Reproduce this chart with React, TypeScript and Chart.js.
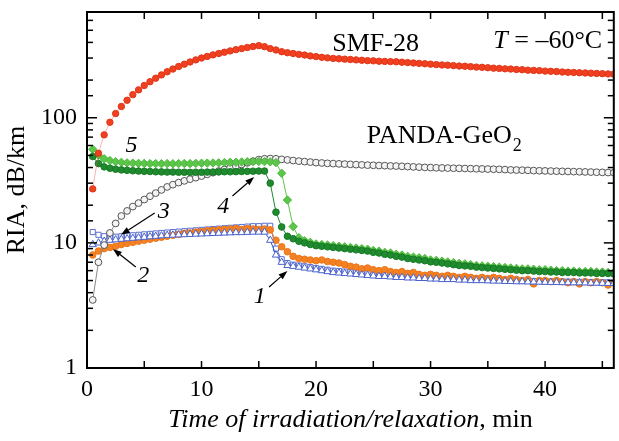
import React, { useEffect, useRef } from 'react';
import { Chart, registerables } from 'chart.js';

Chart.register(...registerables);

// Time, min
const time = [
  0.5, 1, 1.5, 2, 2.5, 3, 3.5, 4, 4.5, 5,
  5.5, 6, 6.5, 7, 7.5, 8, 8.5, 9, 9.5, 10,
  10.5, 11, 11.5, 12, 12.5, 13, 13.5, 14, 14.5, 15,
  15.5, 16, 16.5, 17, 17.5, 18, 18.5, 19, 19.5, 20,
  20.5, 21, 21.5, 22, 22.5, 23, 23.5, 24, 24.5, 25,
  25.5, 26, 26.5, 27, 27.5, 28, 28.5, 29, 29.5, 30,
  30.5, 31, 31.5, 32, 32.5, 33, 33.5, 34, 34.5, 35,
  35.5, 36, 36.5, 37, 37.5, 38, 38.5, 39, 39.5, 40,
  40.5, 41, 41.5, 42, 42.5, 43, 43.5, 44, 44.5, 45,
  45.5, 46,
];

// SMF-28 (red)
const smf28 = [
  27, 52, 73, 92, 108, 123, 138, 153, 167, 181,
  194, 207, 220, 233, 245, 257, 268, 279, 290, 300,
  309, 318, 326, 334, 342, 350, 357, 364, 371, 377,
  370, 357, 348, 337, 331, 326, 321, 317, 312, 308,
  304, 301, 298, 296, 294, 292, 290, 288, 286, 285,
  283, 282, 281, 280, 278, 276, 274, 272, 270, 268,
  266, 264, 263, 261, 259, 258, 256, 254, 253, 251,
  249, 248, 246, 245, 243, 242, 240, 239, 238, 236,
  235, 234, 232, 231, 230, 229, 228, 227, 226, 225,
  224, 223,
];

// PANDA-GeO2 (grey open circles)
const pandaGeO2 = [
  3.5, 7.0, 9.6, 12.0, 14.3, 16.4, 18.0, 19.5, 20.8, 22.2,
  23.6, 25.0, 26.5, 28.0, 29.2, 30.3, 31.3, 32.3, 33.2, 34.2,
  35.3, 36.4, 37.5, 38.6, 39.8, 41.0, 42.3, 43.6, 45.0, 46.3,
  47.0, 47.2, 47.0, 46.5, 46.0, 45.5, 45.0, 44.6, 44.2, 43.8,
  43.5, 43.2, 43.0, 42.8, 42.6, 42.4, 42.2, 42.0, 41.8, 41.7,
  41.5, 41.4, 41.2, 41.1, 40.9, 40.7, 40.5, 40.3, 40.1, 40.0,
  39.8, 39.7, 39.6, 39.5, 39.4, 39.3, 39.2, 39.1, 39.0, 38.9,
  38.8, 38.7, 38.5, 38.3, 38.2, 38.1, 38.0, 37.8, 37.7, 37.6,
  37.5, 37.4, 37.3, 37.2, 37.1, 37.0, 36.9, 36.8, 36.7, 36.6,
  36.5, 36.4,
];

// Curve 1 (blue open triangles)
const curve1 = [
  9.7, 10.0, 10.3, 10.5, 10.6, 10.7, 10.8, 10.9, 11.0, 11.1,
  11.2, 11.3, 11.4, 11.5, 11.55, 11.6, 11.65, 11.7, 11.75, 11.8,
  11.85, 11.9, 11.95, 12.0, 12.05, 12.1, 12.1, 12.15, 12.2, 12.2,
  12.2, 10.5, 8.0, 7.0, 6.6, 6.5, 6.4, 6.3, 6.2, 6.1,
  6.0, 5.9, 5.8, 5.75, 5.7, 5.65, 5.6, 5.55, 5.5, 5.45,
  5.4, 5.4, 5.35, 5.3, 5.3, 5.25, 5.25, 5.2, 5.2, 5.15,
  5.15, 5.1, 5.1, 5.1, 5.05, 5.05, 5.0, 5.0, 5.0, 4.98,
  4.96, 4.95, 4.93, 4.92, 4.9, 4.9, 4.88, 4.87, 4.86, 4.85,
  4.84, 4.83, 4.82, 4.81, 4.8, 4.8, 4.79, 4.78, 4.77, 4.76,
  4.75, 4.75,
];

// Curve 2 (orange filled circles)
const curve2 = [
  8.0, 8.6, 9.0, 9.2, 9.4, 9.7, 9.9, 10.1, 10.3, 10.5,
  10.7, 10.9, 11.1, 11.3, 11.5, 11.7, 11.9, 12.0, 12.2, 12.3,
  12.5, 12.6, 12.7, 12.8, 12.9, 13.0, 12.8, 13.0, 12.9, 12.8,
  12.9, 12.7, 10.5, 9.3, 8.5, 7.8, 7.5, 7.4, 7.3, 7.2,
  7.3, 7.1, 7.0, 6.9, 6.7, 6.5, 6.4, 6.2, 6.3, 6.1,
  6.0, 6.1, 5.9, 5.8, 5.9, 5.7, 5.8, 5.6, 5.5, 5.6,
  5.5, 5.4, 5.5, 5.4, 5.3, 5.4, 5.3, 5.2, 5.3, 5.2,
  5.3, 5.2, 5.1, 5.2, 5.1, 5.0, 5.1, 4.7, 5.0, 5.0,
  4.9, 5.0, 4.9, 4.8, 4.9, 4.7, 4.9, 4.8, 4.9, 4.8,
  4.6, 4.8,
];

// Curve 3 (blue open squares)
const curve3 = [
  12.2, 11.6, 11.3, 11.2, 11.2, 11.3, 11.4, 11.5, 11.6, 11.7,
  11.8, 11.9, 12.0, 12.1, 12.2, 12.3, 12.4, 12.5, 12.6, 12.7,
  12.8, 12.9, 13.0, 13.1, 13.2, 13.3, 13.4, 13.5, 13.6, 13.6,
  13.7, 13.7, 9.0, 7.4, 6.9, 6.7, 6.6, 6.5, 6.4, 6.3,
  6.2, 6.1, 6.0, 5.95, 5.9, 5.85, 5.8, 5.75, 5.7, 5.65,
  5.6, 5.55, 5.5, 5.45, 5.45, 5.4, 5.4, 5.35, 5.35, 5.3,
  5.3, 5.25, 5.25, 5.2, 5.2, 5.15, 5.15, 5.1, 5.1, 5.1,
  5.05, 5.05, 5.0, 5.0, 5.0, 4.98, 4.96, 4.95, 4.94, 4.93,
  4.92, 4.91, 4.9, 4.9, 4.89, 4.88, 4.87, 4.86, 4.85, 4.85,
  4.84, 4.83,
];

// Curve 4 (dark green filled circles)
const curve4 = [
  49, 43, 40.5, 39.5, 38.8, 38.3, 38.0, 37.7, 37.5, 37.3,
  37.2, 37.0, 36.9, 36.8, 36.8, 36.7, 36.7, 36.6, 36.7, 36.7,
  36.8, 36.8, 36.9, 37.0, 37.0, 37.1, 37.2, 37.3, 37.4, 37.5,
  37.5, 30, 17.6, 13.4, 11.3, 10.8, 10.3, 10.0, 9.7, 9.5,
  9.4, 9.3, 9.2, 9.1, 9.0, 8.9, 8.8, 8.7, 8.6, 8.4,
  8.3, 8.1, 8.0, 7.8, 7.7, 7.5, 7.4, 7.3, 7.2, 7.05,
  7.0, 6.9, 6.8, 6.7, 6.6, 6.55, 6.5, 6.4, 6.35, 6.3,
  6.25, 6.2, 6.15, 6.1, 6.05, 6.0, 6.0, 5.95, 5.9, 5.9,
  5.85, 5.85, 5.8, 5.8, 5.8, 5.75, 5.75, 5.75, 5.7, 5.7,
  5.7, 5.65,
];

// Curve 5 (light green diamonds)
const curve5 = [
  56, 50, 47, 45.5, 44.5, 44.0, 43.6, 43.4, 43.2, 43.1,
  43.0, 43.0, 42.9, 43.0, 42.9, 43.0, 43.1, 43.0, 43.2, 43.3,
  43.4, 43.5, 43.6, 43.8, 44.0, 44.1, 44.3, 44.5, 44.6, 44.7,
  44.6, 44.4, 43.8, 36, 22, 13.5, 11.0, 10.4, 10.1, 9.8,
  9.7, 9.6, 9.5, 9.4, 9.3, 9.2, 9.1, 9.0, 8.9, 8.7,
  8.6, 8.4, 8.3, 8.1, 8.0, 7.8, 7.7, 7.6, 7.5, 7.3,
  7.25, 7.15, 7.05, 6.95, 6.85, 6.8, 6.7, 6.6, 6.55, 6.5,
  6.45, 6.4, 6.35, 6.3, 6.25, 6.2, 6.2, 6.15, 6.1, 6.1,
  6.05, 6.0, 6.0, 5.95, 5.95, 5.9, 5.9, 5.9, 5.85, 5.85,
  5.8, 5.8,
];

const xTickLabels = [0, 10, 20, 30, 40];
const yTickLabels = [1, 10, 100];

const SERIF = '"Liberation Serif", "Times New Roman", "DejaVu Serif", serif';

// annotation anchors in data coordinates (time, RIA)
const numberLabels = [
  { text: '5', t: 3.89, v: 53.6 },
  { text: '4', t: 11.9, v: 17.3 },
  { text: '3', t: 6.7, v: 15.8 },
  { text: '2', t: 4.91, v: 4.87 },
  { text: '1', t: 15.09, v: 3.31 },
];
const arrows = [
  { from: [5.91, 17.3], to: [2.96, 11.6] },
  { from: [4.26, 6.42], to: [2.26, 8.94] },
  { from: [12.7, 23.7], to: [14.6, 33.6] },
  { from: [15.9, 4.44], to: [17.5, 5.96] },
];

function pts(values: number[]) {
  return time.map((t, i) => ({ x: t, y: values[i] }));
}

const framePlugin = {
  id: 'frameTicks',
  afterDraw(chart: any) {
    const { ctx, chartArea, scales } = chart;
    const { left, right, top, bottom } = chartArea;
    const xs = scales.x;
    const ys = scales.y;
    ctx.save();
    ctx.strokeStyle = '#000';
    ctx.lineWidth = 1.5;
    const line = (x1: number, y1: number, x2: number, y2: number) => {
      ctx.beginPath();
      ctx.moveTo(x1, y1);
      ctx.lineTo(x2, y2);
      ctx.stroke();
    };
    ys.ticks.forEach((tk: any) => {
      const py = ys.getPixelForValue(tk.value);
      if (py <= top + 1 || py >= bottom - 1) return;
      const lg = Math.log10(tk.value);
      const major = Math.abs(lg - Math.round(lg)) < 1e-6;
      const len = major ? 10 : 6;
      line(left, py, left + len, py);
      line(right, py, right - len, py);
    });
    xs.ticks.forEach((tk: any) => {
      const px = xs.getPixelForValue(tk.value);
      if (px <= left + 1 || px >= right - 1) return;
      line(px, bottom, px, bottom - 7);
      line(px, top, px, top + 7);
    });
    ctx.lineWidth = 2;
    ctx.strokeRect(left, top, right - left, bottom - top);
    ctx.restore();
  },
};

const annotationPlugin = {
  id: 'annotations',
  afterDraw(chart: any) {
    const { ctx, chartArea, scales } = chart;
    const xs = scales.x;
    const ys = scales.y;
    const X = (t: number) => xs.getPixelForValue(t);
    const Y = (v: number) => ys.getPixelForValue(v);
    ctx.save();
    ctx.fillStyle = '#000';
    ctx.strokeStyle = '#000';
    ctx.textBaseline = 'alphabetic';

    // SMF-28
    ctx.font = `26px ${SERIF}`;
    ctx.textAlign = 'center';
    ctx.fillText('SMF-28', X(25.2), Y(344));

    // T = -60°C
    ctx.textAlign = 'left';
    let x0 = X(35.48);
    const yT = Y(359);
    ctx.font = `italic 26px ${SERIF}`;
    ctx.fillText('T', x0, yT);
    x0 += ctx.measureText('T').width;
    ctx.font = `26px ${SERIF}`;
    ctx.fillText(' = \u201360\u00B0C', x0, yT);

    // PANDA-GeO2
    let xp = X(24.43);
    const yp = Y(62.5);
    ctx.font = `26px ${SERIF}`;
    ctx.fillText('PANDA-GeO', xp, yp);
    xp += ctx.measureText('PANDA-GeO').width;
    ctx.font = `18px ${SERIF}`;
    ctx.fillText('2', xp + 1, yp + 8);

    // curve numbers
    ctx.font = `italic 24px ${SERIF}`;
    ctx.textAlign = 'center';
    numberLabels.forEach((n) => ctx.fillText(n.text, X(n.t), Y(n.v)));

    // arrows
    ctx.lineWidth = 1.2;
    arrows.forEach((a) => {
      const x1 = X(a.from[0]);
      const y1 = Y(a.from[1]);
      const x2 = X(a.to[0]);
      const y2 = Y(a.to[1]);
      const ang = Math.atan2(y2 - y1, x2 - x1);
      const hl = 9;
      const hw = 3.2;
      const bx = x2 - hl * Math.cos(ang);
      const by = y2 - hl * Math.sin(ang);
      ctx.beginPath();
      ctx.moveTo(x1, y1);
      ctx.lineTo(bx, by);
      ctx.stroke();
      ctx.beginPath();
      ctx.moveTo(x2, y2);
      ctx.lineTo(bx + hw * Math.sin(ang), by - hw * Math.cos(ang));
      ctx.lineTo(bx - hw * Math.sin(ang), by + hw * Math.cos(ang));
      ctx.closePath();
      ctx.fill();
    });

    // x-axis title (italic + roman)
    const cx = (chartArea.left + chartArea.right) / 2;
    const by = chartArea.bottom + 59;
    const part1 = 'Time of irradiation/relaxation';
    const part2 = ', min';
    ctx.font = `italic 26px ${SERIF}`;
    const w1 = ctx.measureText(part1).width;
    ctx.font = `26px ${SERIF}`;
    const w2 = ctx.measureText(part2).width;
    const sx = cx - (w1 + w2) / 2;
    ctx.textAlign = 'left';
    ctx.font = `italic 26px ${SERIF}`;
    ctx.fillText(part1, sx, by);
    ctx.font = `26px ${SERIF}`;
    ctx.fillText(part2, sx + w1, by);
    ctx.restore();
  },
};

export default function App() {
  const canvasRef = useRef<HTMLCanvasElement | null>(null);

  useEffect(() => {
    const canvas = canvasRef.current;
    if (!canvas) return;
    const base = {
      showLine: true,
      borderWidth: 1,
      pointBorderWidth: 1,
      tension: 0,
    };
    const chart = new Chart(canvas, {
      type: 'line',
      data: {
        datasets: [
          {
            ...base,
            label: 'SMF-28',
            data: pts(smf28),
            borderColor: 'rgba(240,90,70,0.45)',
            pointStyle: 'circle',
            pointRadius: 3.2,
            pointBackgroundColor: '#f0401f',
            pointBorderColor: '#e0361a',
          },
          {
            ...base,
            label: '4',
            data: pts(curve4),
            borderColor: '#1f8a2e',
            pointStyle: 'circle',
            pointRadius: 3.3,
            pointBackgroundColor: '#1f8a2e',
            pointBorderColor: '#177a25',
          },
          {
            ...base,
            label: '5',
            data: pts(curve5),
            borderColor: '#5cc64a',
            pointStyle: 'rectRot',
            pointRadius: 4.2,
            pointBackgroundColor: '#5cc64a',
            pointBorderColor: '#4fb840',
          },
          {
            ...base,
            label: 'PANDA-GeO2',
            data: pts(pandaGeO2),
            borderColor: '#888',
            pointStyle: 'circle',
            pointRadius: 3.4,
            pointBackgroundColor: '#f4f4f4',
            pointBorderColor: '#555',
          },
          {
            ...base,
            label: '1',
            data: pts(curve1),
            borderColor: '#3c55c8',
            pointStyle: 'triangle',
            pointRadius: 4.2,
            pointBackgroundColor: '#ffffff',
            pointBorderColor: '#4a62cc',
          },
          {
            ...base,
            label: '2',
            data: pts(curve2),
            borderColor: '#f08020',
            pointStyle: 'circle',
            pointRadius: 3.3,
            pointBackgroundColor: '#f58222',
            pointBorderColor: '#ec7418',
          },
          {
            ...base,
            label: '3',
            data: pts(curve3),
            borderColor: '#5a6fd0',
            pointStyle: 'rect',
            pointRadius: 3.6,
            pointBackgroundColor: '#ffffff',
            pointBorderColor: '#5a6fd0',
          },
        ],
      },
      options: {
        responsive: false,
        animation: false,
        devicePixelRatio: 1,
        layout: { padding: { top: 12, right: 3, left: 0, bottom: 0 } },
        plugins: {
          legend: { display: false },
          tooltip: { enabled: false },
        },
        scales: {
          x: {
            type: 'linear',
            min: 0,
            max: 46,
            grid: { display: false, drawTicks: false },
            border: { display: false },
            ticks: {
              stepSize: 5,
              includeBounds: false,
              autoSkip: false,
              maxRotation: 0,
              padding: 10,
              color: '#000',
              font: { family: SERIF, size: 24, lineHeight: 1 },
              callback: (v: any) => (xTickLabels.includes(Number(v)) ? String(v) : ''),
            },
            afterFit: (s: any) => {
              s.height = 73;
              s.paddingLeft = 0;
              s.paddingRight = 0;
            },
          },
          y: {
            type: 'logarithmic',
            min: 1,
            max: 700,
            grid: { display: false, drawTicks: false },
            border: { display: false },
            ticks: {
              autoSkip: false,
              padding: 10,
              color: '#000',
              font: { family: SERIF, size: 24, lineHeight: 1 },
              callback: (v: any) => (yTickLabels.includes(Number(v)) ? String(v) : ''),
            },
            title: {
              display: true,
              text: 'RIA, dB/km',
              color: '#000',
              font: { family: SERIF, size: 26 },
              padding: { top: 2, bottom: 0 },
            },
            afterFit: (s: any) => {
              s.width = 87;
              s.paddingTop = 0;
              s.paddingBottom = 0;
            },
          },
        },
      } as any,
      plugins: [framePlugin, annotationPlugin],
    });
    return () => chart.destroy();
  }, []);

  return (
    <div style={{ position: 'absolute', left: 0, top: 0, width: 619, height: 441, background: '#fff' }}>
      <canvas ref={canvasRef} width={619} height={441} style={{ display: 'block' }} />
    </div>
  );
}
